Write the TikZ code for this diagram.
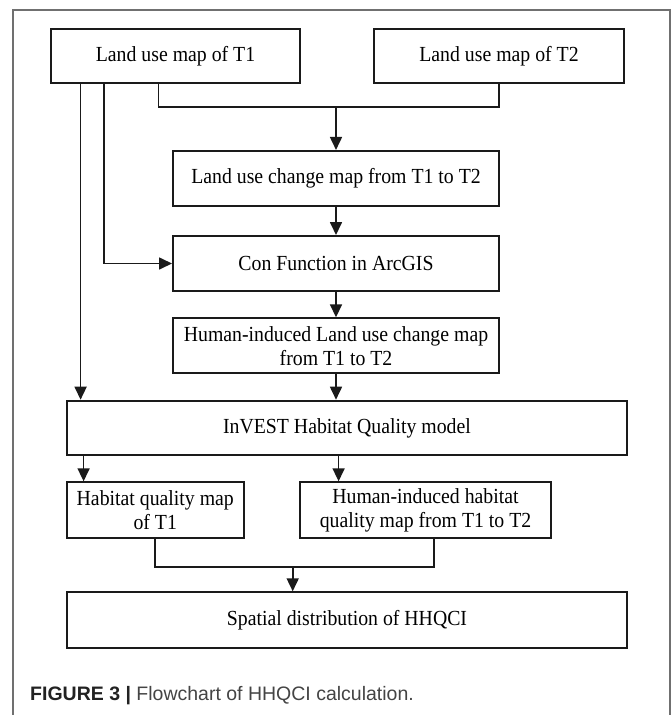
\documentclass[tikz,border=0pt]{standalone}
\usepackage{fontspec}
\setmainfont[FakeStretch=0.92]{Liberation Serif}
\newfontfamily\capfont{Liberation Sans}
\usetikzlibrary{arrows.meta}
\definecolor{frame}{HTML}{707070}
\definecolor{boxline}{HTML}{1a1a1a}
\begin{document}
\begin{tikzpicture}[x=1pt,y=-1pt,
  box/.style={draw=boxline,line width=2pt,inner sep=0pt,align=center,
    font=\fontsize{21.5}{24}\selectfont},
  conn/.style={draw=boxline,line width=1.7pt},
  arr/.style={conn,-{Triangle[width=12pt,length=13pt]}}]
\useasboundingbox (0,0) rectangle (672,715);
\fill[white] (0,0) rectangle (672,715);
\draw[frame,line width=1.2pt] (13,716) -- (13,10) -- (670,10) -- (670,716);

\node[box,minimum width=249pt,minimum height=54pt] (t1) at (175.5,56.3) {Land use map of T1};
\node[box,minimum width=250pt,minimum height=54pt] (t2) at (499,56.3) {Land use map of T2};
\node[box,minimum width=326pt,minimum height=54.7pt] (chg) at (336,178.3) {Land use change map from T1 to T2};
\node[box,minimum width=326pt,minimum height=55pt] (con) at (336,263.5) {Con Function in ArcGIS};
\node[box,minimum width=326pt,minimum height=55pt] (hum) at (336,345.8) {Human-induced Land use change map\\from T1 to T2};
\node[box,minimum width=560pt,minimum height=54.6pt] (inv) at (347,428) {InVEST Habitat Quality model};
\node[box,minimum width=176.5pt,minimum height=55.4pt] (hab) at (155.25,510) {Habitat quality map\\of T1};
\node[box,minimum width=251pt,minimum height=55.4pt] (hhq) at (425.5,510) {Human-induced habitat\\quality map from T1 to T2};
\node[box,minimum width=560pt,minimum height=55.4pt] (spa) at (347,620) {Spatial distribution of HHQCI};

\coordinate (m1) at (336,107.3);
\coordinate (m2) at (292.7,566.7);

% merge T1 + T2 -> change map
\draw[conn] (t1.south -| 158.6,0) |- (m1) -| (t2.south -| 499,0);
\draw[arr] (m1) -- (chg.north);
\draw[arr] (chg.south) -- (con.north);
\draw[arr] (t1.south -| 104,0) |- (con.west);
\draw[arr] (t1.south -| 80.6,0) -- (inv.north -| 80.6,0);
\draw[arr] (con.south) -- (hum.north);
\draw[arr] (hum.south) -- (hum.south |- inv.north);
\draw[arr] (inv.south -| 83.6,0) -- (hab.north -| 83.6,0);
\draw[arr] (inv.south -| 338.6,0) -- (hhq.north -| 338.6,0);
\draw[conn] (hab.south -| 155,0) |- (m2) -| (hhq.south -| 434,0);
\draw[arr] (m2) -- (spa.north -| m2);

\node[anchor=base west,inner sep=0pt,font=\capfont\fontsize{19.5}{21}\selectfont] (cap) at (30,700.5)
  {\textcolor[HTML]{222222}{\bfseries FIGURE 3 |} \textcolor[HTML]{444444}{Flowchart of HHQCI calculation.}};
\end{tikzpicture}
\end{document}
